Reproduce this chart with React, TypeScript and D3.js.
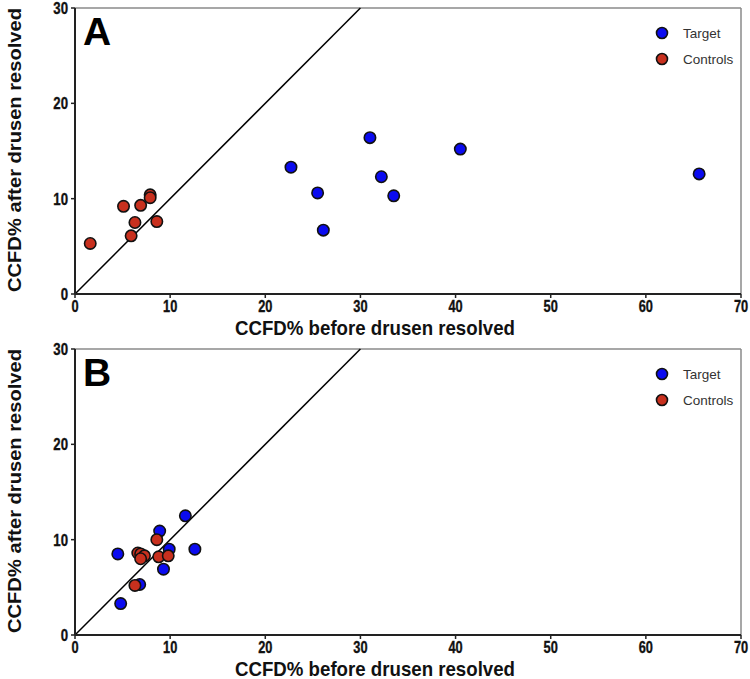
import * as d3 from 'd3';

type Pt = { x: number; y: number };

// Panel A
const targetA: Pt[] = [
  { x: 22.7, y: 13.3 }, { x: 25.5, y: 10.6 }, { x: 26.1, y: 6.7 }, { x: 31.0, y: 16.4 },
  { x: 32.2, y: 12.3 }, { x: 33.5, y: 10.3 }, { x: 40.5, y: 15.2 }, { x: 65.6, y: 12.6 },
];
const controlsA: Pt[] = [
  { x: 1.6, y: 5.3 }, { x: 5.1, y: 9.2 }, { x: 5.9, y: 6.1 }, { x: 6.3, y: 7.5 },
  { x: 6.9, y: 9.3 }, { x: 7.9, y: 10.4 }, { x: 7.9, y: 10.1 }, { x: 8.6, y: 7.6 },
];
// Panel B
const targetB: Pt[] = [
  { x: 11.6, y: 12.5 }, { x: 8.9, y: 10.9 }, { x: 4.5, y: 8.5 }, { x: 9.9, y: 9.0 },
  { x: 12.6, y: 9.0 }, { x: 9.3, y: 6.9 }, { x: 6.8, y: 5.3 }, { x: 4.8, y: 3.3 },
];
const controlsB: Pt[] = [
  { x: 8.6, y: 10.0 }, { x: 6.6, y: 8.6 }, { x: 6.9, y: 8.5 }, { x: 7.3, y: 8.3 },
  { x: 6.9, y: 8.0 }, { x: 8.8, y: 8.2 }, { x: 9.8, y: 8.3 }, { x: 6.3, y: 5.2 },
];

const xTicks = [0, 10, 20, 30, 40, 50, 60, 70];
const yTicks = [0, 10, 20, 30];
const seriesNames = ['Target', 'Controls'];
const seriesColors = ['#0b0bf0', '#c8301e'];

const sans = '"Liberation Sans", Arial, Helvetica, sans-serif';

const L = 75, R = 741;

// narrow bold label (emulates Arial Narrow Bold)
function Narrow({ x, y, anchor, size, children }: { x: number; y: number; anchor: string; size: number; children: any }) {
  return (
    <text transform={`translate(${x},${y}) scale(0.8,1)`} textAnchor={anchor} fontFamily={sans} fontWeight="bold" fontSize={size} fill="#111" stroke="#111" strokeWidth={0.35}>{children}</text>
  );
}

function Panel({ top, letter, target, controls }: { top: number; letter: string; target: Pt[]; controls: Pt[] }) {
  const bottom = top + 286;
  const x = d3.scaleLinear().domain([0, 70]).range([L, R]);
  const y = d3.scaleLinear().domain([0, 30]).range([bottom, top]);
  const mid = (top + bottom) / 2;
  return (
    <g>
      {/* frame */}
      <line x1={L} x2={R} y1={top} y2={top} stroke="#8a8a8a" strokeWidth={1.5} />
      <line x1={R} x2={R} y1={top} y2={bottom} stroke="#8a8a8a" strokeWidth={1.5} />
      {/* identity line */}
      <line x1={x(0)} y1={y(0)} x2={x(30)} y2={y(30)} stroke="#000" strokeWidth={1.5} />
      {/* axes */}
      <line x1={L} x2={L} y1={top} y2={bottom} stroke="#222" strokeWidth={2} />
      <line x1={L} x2={R} y1={bottom} y2={bottom} stroke="#222" strokeWidth={2} />
      {yTicks.map(t => (
        <g key={'y' + t}>
          <line x1={L - 4} x2={L} y1={y(t)} y2={y(t)} stroke="#222" strokeWidth={1.5} />
          <Narrow x={L - 7} y={y(t) + 6} anchor="end" size={16.5}>{t}</Narrow>
        </g>
      ))}
      {xTicks.map(t => (
        <g key={'x' + t}>
          <line x1={x(t)} x2={x(t)} y1={bottom} y2={bottom + 4} stroke="#222" strokeWidth={1.5} />
          <Narrow x={x(t)} y={bottom + 18} anchor="middle" size={16}>{t}</Narrow>
        </g>
      ))}
      <text x={375} y={bottom + 41} textAnchor="middle" textLength={280} lengthAdjust="spacingAndGlyphs" fontFamily={sans} fontWeight="bold" fontSize={21} fill="#111">CCFD% before drusen resolved</text>
      <text transform={`translate(21,${mid - 1}) rotate(-90)`} textAnchor="middle" textLength={284} lengthAdjust="spacingAndGlyphs" fontFamily={sans} fontWeight="bold" fontSize={19} fill="#111">CCFD% after drusen resolved</text>
      <text x={L + 8} y={top + 37} fontFamily={sans} fontWeight="bold" fontSize={39} fill="#000">{letter}</text>
      {/* points */}
      {target.map((d, i) => (
        <circle key={'t' + i} cx={x(d.x)} cy={y(d.y)} r={5.7} fill={seriesColors[0]} stroke="#111" strokeWidth={1.6} />
      ))}
      {controls.map((d, i) => (
        <circle key={'c' + i} cx={x(d.x)} cy={y(d.y)} r={5.7} fill={seriesColors[1]} stroke="#111" strokeWidth={1.6} />
      ))}
      {/* legend */}
      {seriesNames.map((n, i) => (
        <g key={n}>
          <circle cx={662} cy={top + 25 + i * 26} r={5.5} fill={seriesColors[i]} stroke="#111" strokeWidth={1.6} />
          <text x={683} y={top + 25 + i * 26} dy="0.36em" fontFamily={sans} fontSize={13.5} fill="#333">{n}</text>
        </g>
      ))}
    </g>
  );
}

export default function App() {
  return (
    <svg width={750} height={679} style={{ position: 'absolute', left: 0, top: 0, background: '#fff' }}>
      <rect width={750} height={679} fill="#fff" />
      <Panel top={8} letter="A" target={targetA} controls={controlsA} />
      <Panel top={349} letter="B" target={targetB} controls={controlsB} />
    </svg>
  );
}
